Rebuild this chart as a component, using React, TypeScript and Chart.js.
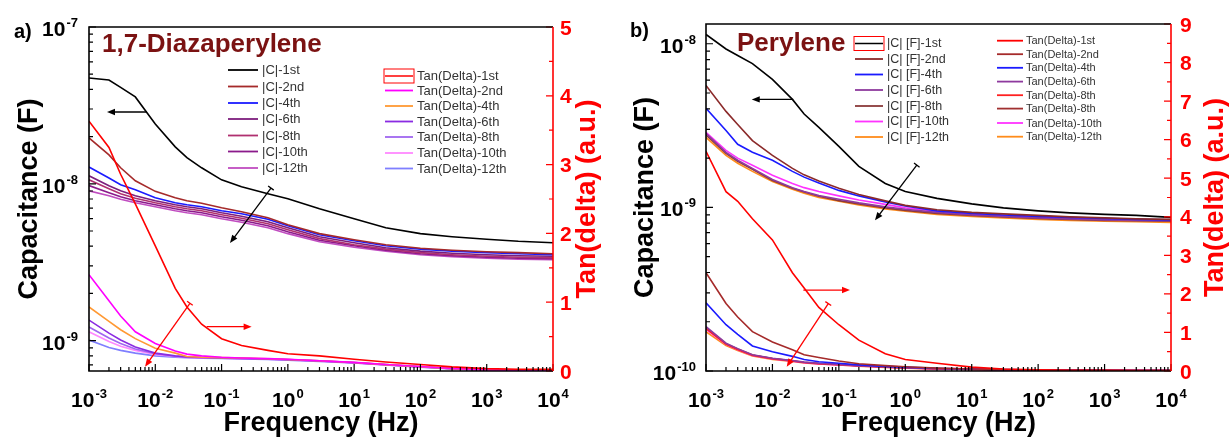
import React, { useEffect, useRef } from "react";
import { Chart, registerables } from "chart.js";

Chart.register(...registerables);

const FONT = '"Liberation Sans", Arial, Helvetica, sans-serif';
const RED = "#ff0000";

// ---------- shared frequency grid (Hz) ----------
const FREQ = [1e-3, 2e-3, 3e-3, 5e-3, 1e-2, 2e-2, 3e-2, 5e-2, 0.1, 0.2, 0.5, 1, 3, 10, 30, 100, 300, 1e3, 3e3, 1e4];

// ---------- panel a: 1,7-Diazaperylene ----------
const A_C_LABELS = ["|C|-1st", "|C|-2nd", "|C|-4th", "|C|-6th", "|C|-8th", "|C|-10th", "|C|-12th"];
const A_C_1ST = [4.73e-8, 4.59e-8, 4.12e-8, 3.58e-8, 2.41e-8, 1.72e-8, 1.47e-8, 1.265e-8, 1.06e-8, 9.57e-9, 8.63e-9, 8.02e-9, 6.93e-9, 5.98e-9, 5.25e-9, 4.81e-9, 4.6e-9, 4.43e-9, 4.3e-9, 4.21e-9];
const A_C_2ND = [1.96e-8, 1.53e-8, 1.265e-8, 1.045e-8, 8.95e-9, 8.14e-9, 7.8e-9, 7.51e-9, 7.03e-9, 6.64e-9, 6.07e-9, 5.48e-9, 4.81e-9, 4.4e-9, 4.09e-9, 3.88e-9, 3.77e-9, 3.69e-9, 3.64e-9, 3.58e-9];
const A_C_4TH = [1.28e-8, 1.09e-8, 9.86e-9, 9.16e-9, 8.14e-9, 7.57e-9, 7.35e-9, 7.14e-9, 6.73e-9, 6.44e-9, 5.94e-9, 5.4e-9, 4.73e-9, 4.33e-9, 4.03e-9, 3.83e-9, 3.72e-9, 3.64e-9, 3.58e-9, 3.53e-9];
const A_C_6TH = [1.125e-8, 9.71e-9, 9.02e-9, 8.39e-9, 7.8e-9, 7.35e-9, 7.14e-9, 6.93e-9, 6.53e-9, 6.21e-9, 5.73e-9, 5.25e-9, 4.6e-9, 4.21e-9, 3.91e-9, 3.72e-9, 3.61e-9, 3.53e-9, 3.48e-9, 3.45e-9];
const A_C_8TH = [1.06e-8, 9.29e-9, 8.63e-9, 8.09e-9, 7.57e-9, 7.14e-9, 6.93e-9, 6.73e-9, 6.35e-9, 6.03e-9, 5.56e-9, 5.09e-9, 4.47e-9, 4.09e-9, 3.83e-9, 3.64e-9, 3.53e-9, 3.45e-9, 3.4e-9, 3.38e-9];
const A_C_10TH = [9.75e-9, 8.77e-9, 8.26e-9, 7.8e-9, 7.35e-9, 6.93e-9, 6.73e-9, 6.53e-9, 6.16e-9, 5.86e-9, 5.4e-9, 4.95e-9, 4.37e-9, 4.03e-9, 3.77e-9, 3.58e-9, 3.48e-9, 3.4e-9, 3.35e-9, 3.33e-9];
const A_C_12TH = [9.02e-9, 8.39e-9, 7.96e-9, 7.57e-9, 7.14e-9, 6.73e-9, 6.53e-9, 6.35e-9, 5.98e-9, 5.69e-9, 5.25e-9, 4.81e-9, 4.27e-9, 3.94e-9, 3.72e-9, 3.53e-9, 3.43e-9, 3.35e-9, 3.3e-9, 3.28e-9];

const A_T_LABELS = ["Tan(Delta)-1st", "Tan(Delta)-2nd", "Tan(Delta)-4th", "Tan(Delta)-6th", "Tan(Delta)-8th", "Tan(Delta)-10th", "Tan(Delta)-12th"];
const A_T_1ST = [3.63, 3.25, 2.86, 2.43, 1.82, 1.2, 0.93, 0.68, 0.47, 0.37, 0.3, 0.25, 0.22, 0.17, 0.13, 0.095, 0.06, 0.035, 0.025, 0.025];
const A_T_2ND = [1.4, 1.02, 0.8, 0.57, 0.4, 0.29, 0.245, 0.22, 0.2, 0.19, 0.18, 0.17, 0.15, 0.125, 0.095, 0.065, 0.037, 0.016, 0.009, 0.005];
const A_T_4TH = [0.93, 0.72, 0.6, 0.47, 0.33, 0.26, 0.21, 0.2, 0.195, 0.188, 0.178, 0.168, 0.148, 0.123, 0.093, 0.063, 0.035, 0.015, 0.008, 0.005];
const A_T_6TH = [0.74, 0.55, 0.45, 0.35, 0.26, 0.22, 0.205, 0.197, 0.19, 0.184, 0.175, 0.166, 0.147, 0.122, 0.092, 0.062, 0.034, 0.014, 0.007, 0.004];
const A_T_8TH = [0.64, 0.48, 0.4, 0.32, 0.25, 0.215, 0.2, 0.193, 0.187, 0.181, 0.172, 0.163, 0.145, 0.12, 0.09, 0.06, 0.033, 0.013, 0.007, 0.004];
const A_T_10TH = [0.57, 0.43, 0.36, 0.3, 0.24, 0.21, 0.198, 0.191, 0.185, 0.179, 0.17, 0.161, 0.143, 0.118, 0.089, 0.059, 0.032, 0.013, 0.006, 0.004];
const A_T_12TH = [0.45, 0.34, 0.3, 0.26, 0.22, 0.2, 0.193, 0.187, 0.182, 0.176, 0.167, 0.158, 0.14, 0.116, 0.087, 0.057, 0.03, 0.012, 0.006, 0.003];

// ---------- panel b: Perylene ----------
const B_C_LABELS = ["|C| [F]-1st", "|C| [F]-2nd", "|C| [F]-4th", "|C| [F]-6th", "|C| [F]-8th", "|C| [F]-10th", "|C| [F]-12th"];
const B_C_1ST = [1.14e-8, 9.29e-9, 8.48e-9, 7.56e-9, 6.05e-9, 4.57e-9, 3.72e-9, 3.08e-9, 2.36e-9, 1.78e-9, 1.4e-9, 1.25e-9, 1.135e-9, 1.05e-9, 9.93e-10, 9.52e-10, 9.25e-10, 9.06e-10, 8.93e-10, 8.69e-10];
const B_C_2ND = [5.56e-9, 3.86e-9, 3.21e-9, 2.56e-9, 2.08e-9, 1.73e-9, 1.58e-9, 1.45e-9, 1.31e-9, 1.2e-9, 1.096e-9, 1.028e-9, 9.66e-10, 9.32e-10, 9.12e-10, 8.93e-10, 8.75e-10, 8.63e-10, 8.51e-10, 8.45e-10];
const B_C_4TH = [4.03e-9, 2.95e-9, 2.43e-9, 2.17e-9, 1.94e-9, 1.66e-9, 1.53e-9, 1.41e-9, 1.27e-9, 1.175e-9, 1.08e-9, 1.02e-9, 9.52e-10, 9.19e-10, 8.99e-10, 8.81e-10, 8.69e-10, 8.57e-10, 8.45e-10, 8.39e-10];
const B_C_6TH = [2.83e-9, 2.17e-9, 1.94e-9, 1.73e-9, 1.48e-9, 1.32e-9, 1.25e-9, 1.18e-9, 1.12e-9, 1.065e-9, 1.007e-9, 9.73e-10, 9.32e-10, 8.99e-10, 8.81e-10, 8.63e-10, 8.51e-10, 8.39e-10, 8.33e-10, 8.28e-10];
const B_C_8TH = [2.77e-9, 2.14e-9, 1.91e-9, 1.71e-9, 1.46e-9, 1.31e-9, 1.24e-9, 1.17e-9, 1.1e-9, 1.05e-9, 9.93e-10, 9.59e-10, 9.19e-10, 8.93e-10, 8.75e-10, 8.57e-10, 8.45e-10, 8.33e-10, 8.28e-10, 8.22e-10];
const B_C_10TH = [2.87e-9, 2.23e-9, 2.0e-9, 1.81e-9, 1.57e-9, 1.4e-9, 1.32e-9, 1.25e-9, 1.175e-9, 1.11e-9, 1.043e-9, 9.93e-10, 9.46e-10, 9.06e-10, 8.87e-10, 8.69e-10, 8.57e-10, 8.45e-10, 8.39e-10, 8.33e-10];
const B_C_12TH = [2.68e-9, 2.08e-9, 1.86e-9, 1.66e-9, 1.44e-9, 1.29e-9, 1.22e-9, 1.15e-9, 1.09e-9, 1.035e-9, 9.79e-10, 9.46e-10, 9.06e-10, 8.81e-10, 8.63e-10, 8.45e-10, 8.33e-10, 8.22e-10, 8.16e-10, 8.1e-10];

const B_T_LABELS = ["Tan(Delta)-1st", "Tan(Delta)-2nd", "Tan(Delta)-4th", "Tan(Delta)-6th", "Tan(Delta)-8th", "Tan(Delta)-8th", "Tan(Delta)-10th", "Tan(Delta)-12th"];
const B_T_1ST = [5.7, 4.65, 4.4, 3.95, 3.4, 2.55, 2.15, 1.65, 1.2, 0.8, 0.45, 0.3, 0.2, 0.1, 0.05, 0.03, 0.02, 0.015, 0.01, 0.01];
const B_T_2ND = [2.55, 1.75, 1.4, 1.02, 0.75, 0.55, 0.42, 0.35, 0.26, 0.19, 0.14, 0.11, 0.075, 0.05, 0.035, 0.025, 0.02, 0.015, 0.01, 0.01];
const B_T_4TH = [1.77, 1.2, 0.95, 0.65, 0.5, 0.38, 0.3, 0.24, 0.2, 0.16, 0.12, 0.1, 0.07, 0.05, 0.035, 0.025, 0.02, 0.015, 0.01, 0.01];
const B_T_6TH = [1.15, 0.72, 0.58, 0.42, 0.33, 0.27, 0.23, 0.2, 0.17, 0.14, 0.11, 0.085, 0.06, 0.045, 0.03, 0.022, 0.018, 0.013, 0.01, 0.01];
const B_T_8TH_A = [1.1, 0.7, 0.56, 0.41, 0.32, 0.26, 0.22, 0.19, 0.165, 0.135, 0.105, 0.08, 0.058, 0.043, 0.03, 0.022, 0.017, 0.012, 0.01, 0.01];
const B_T_8TH_B = [1.12, 0.71, 0.57, 0.415, 0.325, 0.265, 0.225, 0.195, 0.168, 0.138, 0.108, 0.083, 0.06, 0.044, 0.03, 0.022, 0.017, 0.012, 0.01, 0.01];
const B_T_10TH = [1.08, 0.69, 0.55, 0.4, 0.31, 0.255, 0.215, 0.185, 0.16, 0.13, 0.1, 0.078, 0.056, 0.042, 0.03, 0.022, 0.017, 0.012, 0.01, 0.01];
const B_T_12TH = [1.02, 0.66, 0.53, 0.39, 0.3, 0.245, 0.21, 0.18, 0.155, 0.125, 0.095, 0.075, 0.053, 0.04, 0.028, 0.02, 0.015, 0.01, 0.008, 0.008];

// ---------- styles ----------
const A_C_COLORS = ["#000000", "#a52a2a", "#1a1aff", "#7d1e7d", "#b03070", "#8b1a8b", "#c04cc0"];
const A_T_COLORS = ["#ff0000", "#ff00ff", "#ff9933", "#8a2be2", "#a066f0", "#ff88ff", "#7f7fff"];
const B_C_COLORS = ["#000000", "#8b2a2a", "#1a1aff", "#8e3a9e", "#8b3a3a", "#ff33ff", "#ff8c1a"];
const B_T_COLORS = ["#ff0000", "#a52a2a", "#1a1aff", "#8e3a9e", "#ff2020", "#a03030", "#ff33ff", "#ff8c1a"];

type Series = { label: string; values: number[]; color: string };
type Arrow = { axis: "y" | "y1"; f1: number; v1: number; f2: number; v2: number; color: string; bar: boolean };
type LegendCol = { x1: number; x2: number; tx: number; rows: number[]; font: number; box: boolean; boxLine?: string; labels: string[]; colors: string[] };

const mk = (labels: string[], colors: string[], vals: number[][]): Series[] =>
  vals.map((v, i) => ({ label: labels[i], values: v, color: colors[i] }));

const PANEL_A = {
  canvasW: 615,
  left: 89, right: 553, top: 27, bottom: 371,
  yMin: 6.4e-10, yMax: 1e-7, y1Max: 5, yExps: [-7, -8, -9],
  cSeries: mk(A_C_LABELS, A_C_COLORS, [A_C_1ST, A_C_2ND, A_C_4TH, A_C_6TH, A_C_8TH, A_C_10TH, A_C_12TH]),
  tSeries: mk(A_T_LABELS, A_T_COLORS, [A_T_1ST, A_T_2ND, A_T_4TH, A_T_6TH, A_T_8TH, A_T_10TH, A_T_12TH]),
  letter: "a)", letterX: 14, letterY: 38,
  title: "1,7-Diazaperylene", titleX: 102, titleY: 52,
  capX: 37, tanX: 595, labelGap: 11, rightGap: 7,
  legend: [
    { x1: 228, x2: 258, tx: 262, rows: [70, 86.5, 103, 119, 135.5, 151.5, 168], font: 13, box: false, labels: A_C_LABELS, colors: A_C_COLORS },
    { x1: 385, x2: 413, tx: 417, rows: [76, 90.5, 106, 121.5, 137, 153, 168.5], font: 13, box: true, boxLine: "#ff0000", labels: A_T_LABELS, colors: A_T_COLORS },
  ] as LegendCol[],
  arrows: [
    { axis: "y", f1: 7.5e-3, v1: 2.87e-8, f2: 1.87e-3, v2: 2.87e-8, color: "#000", bar: false },
    { axis: "y", f1: 0.556, v1: 9.4e-9, f2: 0.134, v2: 4.19e-9, color: "#000", bar: true },
    { axis: "y1", f1: 0.0596, v1: 0.644, f2: 0.284, v2: 0.644, color: RED, bar: false },
    { axis: "y1", f1: 0.0333, v1: 0.984, f2: 7.0e-3, v2: 0.0625, color: RED, bar: true },
  ] as Arrow[],
};

const PANEL_B = {
  canvasW: 616,
  left: 91, right: 556, top: 24, bottom: 371,
  yMin: 1e-10, yMax: 1.32e-8, y1Max: 9, yExps: [-8, -9, -10],
  cSeries: mk(B_C_LABELS, B_C_COLORS, [B_C_1ST, B_C_2ND, B_C_4TH, B_C_6TH, B_C_8TH, B_C_10TH, B_C_12TH]),
  tSeries: mk(B_T_LABELS, B_T_COLORS, [B_T_1ST, B_T_2ND, B_T_4TH, B_T_6TH, B_T_8TH_A, B_T_8TH_B, B_T_10TH, B_T_12TH]),
  letter: "b)", letterX: 15, letterY: 37,
  title: "Perylene", titleX: 122, titleY: 51,
  capX: 38, tanX: 608, labelGap: 10, rightGap: 9,
  legend: [
    { x1: 240, x2: 268, tx: 272, rows: [43.5, 59, 74.5, 90, 106, 121.5, 137], font: 12.5, box: true, boxLine: "#000000", labels: B_C_LABELS, colors: B_C_COLORS },
    { x1: 382, x2: 408, tx: 411, rows: [40.7, 54.2, 67.8, 81.6, 95.2, 108.6, 123, 136.7], font: 11, box: false, labels: B_T_LABELS, colors: B_T_COLORS },
  ] as LegendCol[],
  arrows: [
    { axis: "y", f1: 0.0206, v1: 4.57e-9, f2: 4.88e-3, v2: 4.57e-9, color: "#000", bar: false },
    { axis: "y", f1: 1.49, v1: 1.81e-9, f2: 0.35, v2: 8.33e-10, color: "#000", bar: true },
    { axis: "y1", f1: 0.0292, v1: 2.1, f2: 0.147, v2: 2.1, color: RED, bar: false },
    { axis: "y1", f1: 0.0693, v1: 1.75, f2: 0.0164, v2: 0.11, color: RED, bar: true },
  ] as Arrow[],
};

type Panel = typeof PANEL_A;

function drawPow(ctx: CanvasRenderingContext2D, exp: string, x: number, y: number, align: "center" | "right") {
  ctx.font = `bold 21px ${FONT}`;
  const w1 = ctx.measureText("10").width;
  ctx.font = `bold 13px ${FONT}`;
  const w2 = ctx.measureText(exp).width;
  const total = w1 + 1 + w2;
  const sx = align === "center" ? x - total / 2 : x - total;
  ctx.textAlign = "left";
  ctx.textBaseline = "alphabetic";
  ctx.font = `bold 21px ${FONT}`;
  ctx.fillText("10", sx, y);
  ctx.font = `bold 13px ${FONT}`;
  ctx.fillText(exp, sx + w1 + 1, y - 9);
}

function drawArrow(ctx: CanvasRenderingContext2D, x1: number, y1: number, x2: number, y2: number, color: string, bar: boolean) {
  const ang = Math.atan2(y2 - y1, x2 - x1);
  const hl = 8, hw = 3.2;
  const c = Math.cos(ang), s = Math.sin(ang);
  ctx.strokeStyle = color;
  ctx.fillStyle = color;
  ctx.lineWidth = 1.3;
  ctx.beginPath();
  ctx.moveTo(x1, y1);
  ctx.lineTo(x2 - c * hl * 0.7, y2 - s * hl * 0.7);
  ctx.stroke();
  ctx.beginPath();
  ctx.moveTo(x2, y2);
  ctx.lineTo(x2 - hl * c + hw * s, y2 - hl * s - hw * c);
  ctx.lineTo(x2 - hl * c - hw * s, y2 - hl * s + hw * c);
  ctx.closePath();
  ctx.fill();
  if (bar) {
    const bl = 3.5;
    ctx.beginPath();
    ctx.moveTo(x1 + bl * s, y1 - bl * c);
    ctx.lineTo(x1 - bl * s, y1 + bl * c);
    ctx.stroke();
  }
}

function drawOverlay(chart: any, P: Panel) {
  const ctx: CanvasRenderingContext2D = chart.ctx;
  const { left, right, top, bottom } = chart.chartArea;
  const xs = chart.scales.x, ys = chart.scales.y, y1 = chart.scales.y1;
  ctx.save();

  // tick marks
  ctx.lineWidth = 1.2;
  ctx.strokeStyle = "#000";
  ctx.beginPath();
  for (let d = -3; d <= 4; d++) {
    for (let m = 1; m <= 9; m++) {
      const v = m * Math.pow(10, d);
      if (v > 1.0001e4) break;
      const px = xs.getPixelForValue(v);
      const len = m === 1 ? 7 : 4;
      ctx.moveTo(px, bottom);
      ctx.lineTo(px, bottom - len);
    }
  }
  const dMin = Math.floor(Math.log10(P.yMin));
  const dMax = Math.ceil(Math.log10(P.yMax));
  for (let d = dMin; d <= dMax; d++) {
    for (let m = 1; m <= 9; m++) {
      const v = m * Math.pow(10, d);
      if (v < P.yMin * 0.9999 || v > P.yMax * 1.0001) continue;
      const py = ys.getPixelForValue(v);
      const len = m === 1 ? 7 : 4;
      ctx.moveTo(left, py);
      ctx.lineTo(left + len, py);
    }
  }
  ctx.stroke();

  ctx.strokeStyle = RED;
  ctx.beginPath();
  for (let v = 0; v <= P.y1Max + 1e-9; v += 0.5) {
    const py = y1.getPixelForValue(v);
    const len = Math.abs(v - Math.round(v)) < 1e-6 ? 7 : 4;
    ctx.moveTo(right, py);
    ctx.lineTo(right - len, py);
  }
  ctx.stroke();

  // frame
  ctx.lineWidth = 1.6;
  ctx.strokeStyle = "#000";
  ctx.beginPath();
  ctx.moveTo(right, top);
  ctx.lineTo(left, top);
  ctx.lineTo(left, bottom);
  ctx.lineTo(right, bottom);
  ctx.stroke();
  ctx.strokeStyle = RED;
  ctx.beginPath();
  ctx.moveTo(right, top);
  ctx.lineTo(right, bottom);
  ctx.stroke();

  // tick labels
  ctx.fillStyle = "#000";
  for (let d = -3; d <= 4; d++) {
    drawPow(ctx, String(d), xs.getPixelForValue(Math.pow(10, d)), 407, "center");
  }
  for (const e of P.yExps) {
    drawPow(ctx, String(e), left - P.labelGap, ys.getPixelForValue(Math.pow(10, e)) + 9, "right");
  }
  ctx.fillStyle = RED;
  ctx.font = `bold 21px ${FONT}`;
  ctx.textAlign = "left";
  ctx.textBaseline = "alphabetic";
  for (let v = 0; v <= P.y1Max; v++) {
    ctx.fillText(String(v), right + P.rightGap, y1.getPixelForValue(v) + 7.5);
  }

  // axis titles
  const midY = (top + bottom) / 2;
  ctx.font = `bold 27px ${FONT}`;
  ctx.textAlign = "center";
  ctx.fillStyle = "#000";
  ctx.fillText("Frequency (Hz)", (left + right) / 2, 431);
  ctx.save();
  ctx.translate(P.capX, midY);
  ctx.rotate(-Math.PI / 2);
  ctx.fillText("Capacitance (F)", 0, 0);
  ctx.restore();
  ctx.save();
  ctx.fillStyle = RED;
  ctx.translate(P.tanX, midY);
  ctx.rotate(-Math.PI / 2);
  ctx.fillText("Tan(delta) (a.u.)", 0, 0);
  ctx.restore();

  // panel letter + title
  ctx.textAlign = "left";
  ctx.fillStyle = "#000";
  ctx.font = `bold 20px ${FONT}`;
  ctx.fillText(P.letter, P.letterX, P.letterY);
  ctx.fillStyle = "#7b1212";
  ctx.font = `bold 26px ${FONT}`;
  ctx.fillText(P.title, P.titleX, P.titleY);

  // legend
  for (const col of P.legend) {
    ctx.font = `${col.font}px ${FONT}`;
    ctx.textBaseline = "middle";
    col.labels.forEach((lab, i) => {
      const y = col.rows[i];
      if (col.box && i === 0) {
        ctx.strokeStyle = RED;
        ctx.lineWidth = 1;
        ctx.strokeRect(col.x1 - 1, y - 7, col.x2 - col.x1 + 2, 14);
        ctx.strokeStyle = col.boxLine || col.colors[0];
        ctx.lineWidth = 1.5;
      } else {
        ctx.strokeStyle = col.colors[i];
        ctx.lineWidth = 1.8;
      }
      ctx.beginPath();
      ctx.moveTo(col.x1, y);
      ctx.lineTo(col.x2, y);
      ctx.stroke();
      ctx.fillStyle = "#333";
      ctx.fillText(lab, col.tx, y + 0.5);
    });
  }
  ctx.textBaseline = "alphabetic";

  // arrows
  for (const a of P.arrows) {
    const sc = a.axis === "y" ? ys : y1;
    drawArrow(ctx, xs.getPixelForValue(a.f1), sc.getPixelForValue(a.v1), xs.getPixelForValue(a.f2), sc.getPixelForValue(a.v2), a.color, a.bar);
  }
  ctx.restore();
}

function makeChart(canvas: HTMLCanvasElement, P: Panel) {
  const H = 437;
  const toDs = (s: Series, axis: string) => ({
    label: s.label,
    data: FREQ.map((f, i) => ({ x: f, y: s.values[i] })),
    yAxisID: axis,
    borderColor: s.color,
    backgroundColor: s.color,
    borderWidth: 1.6,
    pointRadius: 0,
    tension: 0,
    fill: false,
  });
  const datasets = [
    toDs(P.tSeries[0], "y1"),
    ...P.cSeries.map((s) => toDs(s, "y")),
    ...P.tSeries.slice(1).map((s) => toDs(s, "y1")),
  ];
  const hidden = { ticks: { display: false }, grid: { display: false }, border: { display: false } };
  return new Chart(canvas, {
    type: "line",
    data: { datasets: datasets as any },
    options: {
      responsive: false,
      animation: false,
      devicePixelRatio: 1,
      events: [],
      layout: { padding: { top: P.top, left: 0, right: 0, bottom: 0 } },
      plugins: { legend: { display: false }, tooltip: { enabled: false }, title: { display: false } },
      scales: {
        x: { type: "logarithmic", min: 1e-3, max: 1e4, ...hidden, afterFit: (s: any) => { s.height = H - P.bottom; } },
        y: { type: "logarithmic", position: "left", min: P.yMin, max: P.yMax, ...hidden, afterFit: (s: any) => { s.width = P.left; } },
        y1: { type: "linear", position: "right", min: 0, max: P.y1Max, ...hidden, afterFit: (s: any) => { s.width = P.canvasW - P.right; } },
      },
    } as any,
    plugins: [{ id: "overlay", afterDatasetsDraw: (c: any) => drawOverlay(c, P) }],
  });
}

export default function App() {
  const refA = useRef<HTMLCanvasElement>(null);
  const refB = useRef<HTMLCanvasElement>(null);
  useEffect(() => {
    const ca = makeChart(refA.current!, PANEL_A);
    const cb = makeChart(refB.current!, PANEL_B);
    return () => {
      ca.destroy();
      cb.destroy();
    };
  }, []);
  return (
    <div style={{ position: "absolute", left: 0, top: 0, width: 1231, height: 437, background: "#fff" }}>
      <canvas ref={refA} width={615} height={437} style={{ position: "absolute", left: 0, top: 0 }} />
      <canvas ref={refB} width={616} height={437} style={{ position: "absolute", left: 615, top: 0 }} />
    </div>
  );
}
